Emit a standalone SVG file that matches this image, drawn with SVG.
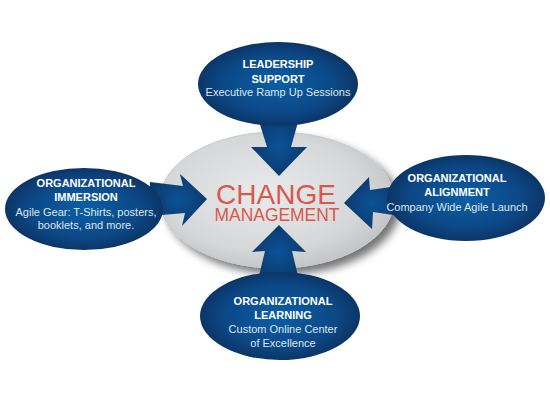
<svg xmlns="http://www.w3.org/2000/svg" width="550" height="400" viewBox="0 0 550 400">
<defs>
<radialGradient id="gray" cx="0.45" cy="0.45" r="0.6">
<stop offset="0" stop-color="#e9eaeb"/>
<stop offset="0.7" stop-color="#d6d7d9"/>
<stop offset="1" stop-color="#bfc1c4"/>
</radialGradient>
<radialGradient id="blue" cx="0.5" cy="0.5" r="0.55">
<stop offset="0" stop-color="#0a5fa6"/>
<stop offset="0.65" stop-color="#0c4785"/>
<stop offset="1" stop-color="#0b2f5c"/>
</radialGradient>
<radialGradient id="arrowblue" cx="0.5" cy="0.5" r="0.6">
<stop offset="0" stop-color="#0b5298"/>
<stop offset="1" stop-color="#0c3565"/>
</radialGradient>
<filter id="shadow" x="-20%" y="-20%" width="150%" height="150%">
<feGaussianBlur in="SourceAlpha" stdDeviation="4"/>
<feOffset dx="6" dy="6" result="b"/>
<feComponentTransfer><feFuncA type="linear" slope="0.55"/></feComponentTransfer>
<feMerge><feMergeNode/><feMergeNode in="SourceGraphic"/></feMerge>
</filter>
</defs>
<style>
.bub{fill:url(#blue);}
.arr{fill:url(#arrowblue);}
.h{font-family:"Liberation Sans",Arial,sans-serif;font-weight:bold;font-size:11px;fill:#ffffff;text-anchor:middle;}
.s{font-family:"Liberation Sans",Arial,sans-serif;font-size:11px;fill:#dde6f0;text-anchor:middle;}
.c{font-family:"Liberation Sans",Arial,sans-serif;fill:#d9584b;text-anchor:middle;}
</style>
<rect width="550" height="400" fill="#ffffff"/>
<g id="center">
<ellipse cx="277" cy="200" rx="117" ry="68" fill="url(#gray)" stroke="#c8c9cc" stroke-width="1" filter="url(#shadow)"/>
<text class="c" x="276" y="204" font-size="28">CHANGE</text>
<text class="c" x="277" y="221" font-size="18" textLength="125" lengthAdjust="spacingAndGlyphs">MANAGEMENT</text>
</g>
<g id="connectors">
<path class="arr" d="M257,115 L267,147 L251,147 L279,176 L307,147 L291,147 L300,115 Z"/>
<path class="arr" d="M150,182 L183,186 L180,174 L207,199 L182,226 L185,213 L150,216 Z"/>
<path class="arr" d="M398,186 L370,190 L369,177 L344,203 L372,229 L373,212 L400,216 Z"/>
<path class="arr" d="M258,280 L265,251 L252,252 L279,225 L306,252 L292,251 L299,280 Z"/>
</g>
<g id="leadership">
<ellipse class="bub" cx="278" cy="84" rx="80" ry="42"/>
<text class="h" x="278" y="68">LEADERSHIP</text>
<text class="h" x="278" y="83">SUPPORT</text>
<text class="s" x="278" y="96">Executive Ramp Up Sessions</text>
</g>
<g id="immersion">
<ellipse class="bub" cx="84" cy="209" rx="79" ry="41"/>
<text class="h" x="86" y="187">ORGANIZATIONAL</text>
<text class="h" x="86" y="201">IMMERSION</text>
<text class="s" x="86" y="216">Agile Gear: T-Shirts, posters,</text>
<text class="s" x="86" y="229">booklets, and more.</text>
</g>
<g id="alignment">
<ellipse class="bub" cx="466" cy="198" rx="79" ry="43"/>
<text class="h" x="457" y="182">ORGANIZATIONAL</text>
<text class="h" x="457" y="196">ALIGNMENT</text>
<text class="s" x="457" y="211">Company Wide Agile Launch</text>
</g>
<g id="learning">
<ellipse class="bub" cx="280" cy="316" rx="80" ry="44"/>
<text class="h" x="283" y="305">ORGANIZATIONAL</text>
<text class="h" x="283" y="319">LEARNING</text>
<text class="s" x="283" y="333">Custom Online Center</text>
<text class="s" x="283" y="347">of Excellence</text>
</g>
</svg>
